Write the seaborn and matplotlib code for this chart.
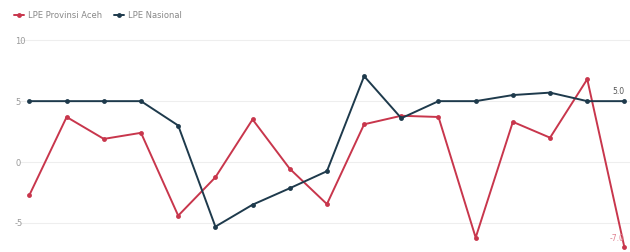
import pandas as pd
import seaborn as sns
import matplotlib.pyplot as plt

# data (17 periods, no x labels shown)
periods = list(range(17))
lpe_aceh = [-2.7, 3.7, 1.9, 2.4, -4.4, -1.25, 3.5, -0.55, -3.45, 3.1, 3.8, 3.7, -6.2, 3.3, 2.0, 6.8, -7.0]
lpe_nasional = [5.0, 5.0, 5.0, 5.0, 3.0, -5.3, -3.5, -2.15, -0.75, 7.05, 3.6, 5.0, 5.0, 5.5, 5.7, 5.0, 5.0]
series_names = ['LPE Provinsi Aceh', 'LPE Nasional']
colors = ['#c8364c', '#1e3a4c']
yticks = [-5, 0, 5, 10]

df = pd.DataFrame({
    'period': periods * 2,
    'value': lpe_aceh + lpe_nasional,
    'series': [series_names[0]] * len(periods) + [series_names[1]] * len(periods),
})

sns.set_style('white')
fig = plt.figure(figsize=(6.3, 2.52), dpi=100)
ax = fig.add_axes([0.032, 0.004, 0.968, 0.846])

sns.lineplot(data=df, x='period', y='value', hue='series', palette=colors,
             marker='o', markersize=3.5, markeredgewidth=0, linewidth=1.4,
             ax=ax)

ax.set_xlim(-0.25, 16.15)
ax.set_ylim(-7.3, 10.2)
ax.set_yticks(yticks)
ax.set_yticklabels([str(t) for t in yticks])
ax.tick_params(axis='y', labelsize=6, colors='#999999', length=0, pad=-6)
ax.set_xticks([])
ax.set_xlabel('')
ax.set_ylabel('')
for lbl in ax.get_yticklabels():
    lbl.set_horizontalalignment('left')
    lbl.set_x(-0.022)
ax.grid(axis='y', color='#eeeeee', linewidth=0.8)
ax.set_axisbelow(True)
sns.despine(ax=ax, left=True, bottom=True)

# end labels
ax.annotate(f'{lpe_nasional[-1]:.1f}', (periods[-1], lpe_nasional[-1]),
            xytext=(0, 4), textcoords='offset points', ha='right', va='bottom',
            fontsize=5.5, color='#555555')
ax.annotate(f'{lpe_aceh[-1]:.1f}', (periods[-1], lpe_aceh[-1]),
            xytext=(0, 3), textcoords='offset points', ha='right', va='bottom',
            fontsize=5.5, color='#e08090')

ax.legend(loc='upper left', bbox_to_anchor=(-0.022, 1.16), ncol=2, frameon=False,
          fontsize=6, handlelength=1.2, handletextpad=0.4, columnspacing=1.5,
          labelcolor='#888888')

fig.savefig('out.png', dpi=100)
